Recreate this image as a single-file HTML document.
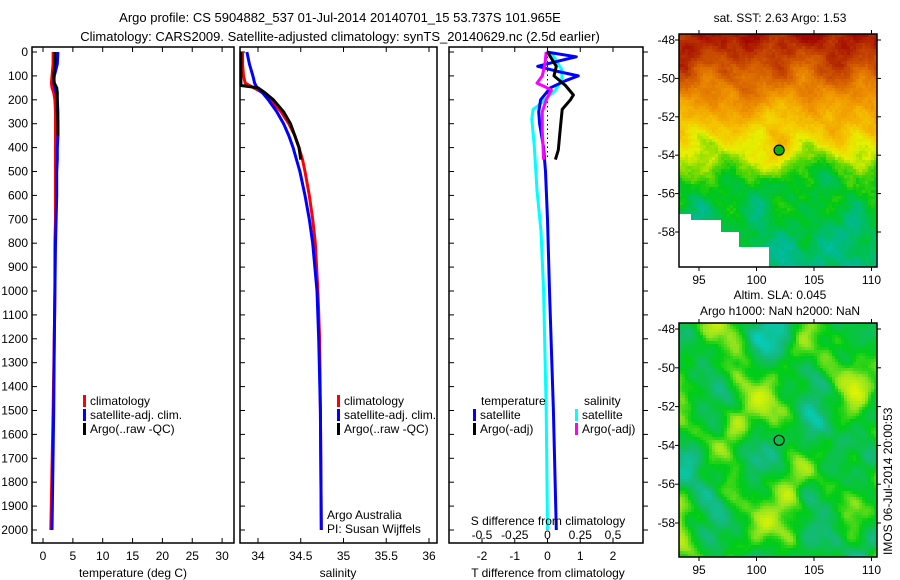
<!DOCTYPE html>
<html><head><meta charset="utf-8">
<style>
html,body{margin:0;padding:0;background:#fff;}
svg{display:block;font-family:"Liberation Sans",sans-serif;}
text{font-size:12px;fill:#000;}
</style></head>
<body>
<svg id="fig" width="900" height="580" viewBox="0 0 900 580">
<rect width="900" height="580" fill="#fff"/>
<text x="340" y="22" text-anchor="middle" style="font-size:13px">Argo profile: CS 5904882_537 01-Jul-2014 20140701_15 53.737S 101.965E</text>
<text x="340" y="41" text-anchor="middle" style="font-size:13px">Climatology: CARS2009. Satellite-adjusted climatology: synTS_20140629.nc (2.5d earlier)</text>
<g id="p1"></g>
<g id="p2"></g>
<g id="p3"></g>
<g id="m1"></g>
<g id="m2"></g>
</svg>
<script>
// ---- data ----
const depthTicks = [0,100,200,300,400,500,600,700,800,900,1000,1100,1200,1300,1400,1500,1600,1700,1800,1900,2000];
const depths = [0,50,100,130,150,170,200,250,300,350,400,450,500,600,700,800,1000,1200,1500,2000];
const tempClim = [1.7,1.7,1.5,1.4,1.5,1.8,2.0,2.1,2.1,2.1,2.1,2.1,2.1,2.1,2.1,2.0,2.0,1.9,1.7,1.3];
const tempSat  = [2.5,2.4,1.9,1.8,2.0,2.2,2.4,2.5,2.5,2.5,2.4,2.4,2.3,2.3,2.2,2.1,2.0,1.9,1.8,1.5];
const argoDepths = [0,50,100,130,150,170,200,250,300,350];
const tempArgo = [2.0,2.0,1.8,1.9,2.3,2.4,2.4,2.4,2.5,2.5];
const salClim = [33.82,33.82,33.83,33.85,33.95,34.05,34.15,34.27,34.36,34.43,34.48,34.52,34.55,34.60,34.64,34.67,34.70,34.72,34.73,34.74];
const salSat  = [33.87,33.90,33.94,33.96,33.99,34.05,34.12,34.22,34.30,34.36,34.41,34.45,34.49,34.55,34.60,34.64,34.69,34.71,34.73,34.74];
const salArgoDepths = [0,50,100,140,150,170,200,250,300,350,400,450];
const salArgo = [33.80,33.80,33.80,33.80,34.00,34.08,34.18,34.30,34.38,34.43,34.48,34.50];
const dTsatDepths = [0,20,40,60,80,100,120,150,200,250,300,400,500,700,1000,1500,2000];
const dTsat = [-0.03,0.88,0.27,-0.30,0.27,0.94,0.55,0.09,-0.21,-0.27,-0.24,-0.12,-0.06,0,0.06,0.18,0.27];
const dTargoDepths = [0,60,100,140,180,200,240,320,410,450];
const dTargo = [0.0,0.27,0.2,0.55,0.79,0.70,0.45,0.39,0.33,0.24];
const dSsatDepths = [0,30,75,115,160,220,240,280,400,580,750,1000,1500,2000];
const dSsat = [0.03,0.06,0.11,0.11,0.06,-0.06,-0.11,-0.12,-0.10,-0.08,-0.05,-0.03,-0.01,0.0];
const dSargoDepths = [0,50,100,130,145,160,200,250,330,450];
const dSargo = [-0.01,-0.02,-0.04,-0.08,-0.02,0.03,-0.01,-0.04,-0.04,-0.03];
const tTicks = [0,5,10,15,20,25,30];
const sTicks = [34,34.5,35,35.5,36];
const sTickLabels = ['34','34.5','35','35.5','36'];
const dTTicks = [-2,-1,0,1,2];
const dSTicks = [-0.5,-0.25,0,0.25,0.5];
const dSTickLabels = ['-0.5','-0.25','0','0.25','0.5'];

const NS='http://www.w3.org/2000/svg';
function el(parent,tag,attrs,txt){const e=document.createElementNS(NS,tag);for(const k in attrs)e.setAttribute(k,attrs[k]);if(txt!==undefined)e.textContent=txt;parent.appendChild(e);return e;}
const Y=d=>52+d*0.239;
const TOP=47,BOT=543;
function frame(g,x0,x1){
  const r=el(g,'rect',{x:x0,y:TOP,width:x1-x0,height:BOT-TOP,fill:'none',stroke:'#000','stroke-width':1.5});
  
  
  depthTicks.forEach(d=>{el(g,'line',{x1:x0,x2:x0+5,y1:Y(d),y2:Y(d),stroke:'#000'});});
}
function xticks(g,xs,labels,f,yl){
  xs.forEach((v,i)=>{const x=f(v);
    el(g,'line',{x1:x,x2:x,y1:BOT,y2:BOT-5,stroke:'#000'});
    el(g,'line',{x1:x,x2:x,y1:TOP,y2:TOP+5,stroke:'#000'});
    const t=el(g,'text',{x:x,y:yl,'text-anchor':'middle'},labels[i]);
    
    
  });
}
function line(g,xs,ds,f,color,w,name){
  const pts=xs.map((v,i)=>f(v).toFixed(1)+','+Y(ds[i]).toFixed(1)).join(' ');
  const p=el(g,'polyline',{points:pts,fill:'none',stroke:color,'stroke-width':w,'stroke-linejoin':'round'});
  
  
}
function legend(g,x,y,color,label){
  el(g,'rect',{x:x,y:y-10,width:3,height:12,fill:color});
  const t=el(g,'text',{x:x+7,y:y},label);
  
  
}
// Panel 1
const g1=document.getElementById('p1');
const fT=v=>43+v*5.97;
frame(g1,32,234);
depthTicks.forEach(d=>{const t=el(g1,'text',{x:28,y:Y(d)+4,'text-anchor':'end'},String(d));
  
  });
xticks(g1,tTicks,tTicks.map(String),fT,560);
line(g1,tempClim,depths,fT,'#f00',3,'temp-climatology-line');
line(g1,tempSat,depths,fT,'#00f',3,'temp-satellite-line');
line(g1,tempArgo,argoDepths,fT,'#000',3,'temp-argo-line');
legend(g1,83,405,'#f00','climatology');
legend(g1,83,419,'#00f','satellite-adj. clim.');
legend(g1,83,433,'#000','Argo(..raw -QC)');
el(g1,'text',{x:133,y:577,'text-anchor':'middle'},'temperature (deg C)');
// Panel 2
const g2=document.getElementById('p2');
const fS=v=>258+(v-34)*85.5;
frame(g2,240,437);
xticks(g2,sTicks,sTickLabels,fS,560);
line(g2,salClim,depths,fS,'#f00',3,'sal-climatology-line');
line(g2,salSat,depths,fS,'#00f',3,'sal-satellite-line');
line(g2,salArgo,salArgoDepths,fS,'#000',3,'sal-argo-line');
legend(g2,337,405,'#f00','climatology');
legend(g2,337,419,'#00f','satellite-adj. clim.');
legend(g2,337,433,'#000','Argo(..raw -QC)');
el(g2,'text',{x:327,y:519},'Argo Australia');
el(g2,'text',{x:327,y:533},'PI: Susan Wijffels');
el(g2,'text',{x:338,y:577,'text-anchor':'middle'},'salinity');
// Panel 3
const g3=document.getElementById('p3');
const fDT=v=>547.5+v*32.75;
const fDS=v=>547.5+v*131;
frame(g3,449,643);
depthTicks.forEach(d=>{el(g3,'line',{x1:643,x2:648,y1:Y(d),y2:Y(d),stroke:'#000'});});
dTTicks.forEach(v=>{const x=fDT(v);el(g3,'line',{x1:x,x2:x,y1:BOT,y2:BOT-5,stroke:'#000'});el(g3,'line',{x1:x,x2:x,y1:TOP,y2:TOP+5,stroke:'#000'});
  const t=el(g3,'text',{x:x,y:560,'text-anchor':'middle'},String(v));
  
  });
dSTicks.forEach((v,i)=>{const t=el(g3,'text',{x:fDS(v),y:539,'text-anchor':'middle'},dSTickLabels[i]);
  
  });
el(g3,'line',{x1:547.5,x2:547.5,y1:Y(0),y2:Y(450),stroke:'#000','stroke-dasharray':'1.5,3'});
line(g3,dSsat,dSsatDepths,fDS,'#0ff',3,'s-diff-satellite-line');
line(g3,dTsat,dTsatDepths,fDT,'#00f',3,'t-diff-satellite-line');
line(g3,dSargo,dSargoDepths,fDS,'#f0f',3,'s-diff-argo-line');
line(g3,dTargo,dTargoDepths,fDT,'#000',3,'t-diff-argo-line');
el(g3,'text',{x:481,y:405},'temperature');
el(g3,'text',{x:584,y:405},'salinity');
legend(g3,473,419,'#00f','satellite');
legend(g3,473,433,'#000','Argo(-adj)');
legend(g3,575,419,'#0ff','satellite');
legend(g3,575,433,'#f0f','Argo(-adj)');
el(g3,'text',{x:548,y:525,'text-anchor':'middle'},'S difference from climatology');
el(g3,'text',{x:548,y:577,'text-anchor':'middle'},'T difference from climatology');

// ---- maps (background imagery texture) ----
function smooth(x,y,s){return Math.sin(x*0.23+s)*Math.cos(y*0.19+s*1.3)
  +0.7*Math.sin(x*0.113+y*0.071+s*2.1)*Math.cos(x*0.05-y*0.137+s)
  +0.5*Math.cos(x*0.37-y*0.29+s*0.7)*Math.sin(y*0.31+s*3.1)
  +0.3*Math.sin(x*0.61+s*1.9)*Math.cos(y*0.53-s);}
function hash(i,j,s){const v=Math.sin(i*12.9898+j*78.233+s*37.7)*43758.5453;return v-Math.floor(v)-0.5;}
function hex(r,g,b){return 'rgb('+Math.round(r)+','+Math.round(g)+','+Math.round(b)+')';}
function lerpStops(stops,v){v=Math.max(0,Math.min(1,v));for(let i=0;i<stops.length-1;i++){const a=stops[i],b=stops[i+1];if(v<=b[0]){const t=(v-a[0])/(b[0]-a[0]);return hex(a[1]+(b[1]-a[1])*t,a[2]+(b[2]-a[2])*t,a[3]+(b[3]-a[3])*t);}}const l=stops[stops.length-1];return hex(l[1],l[2],l[3]);}
const sstStops=[[0,30,140,240],[0.2,0,200,210],[0.32,0,185,140],[0.42,0,200,20],[0.5,130,220,0],[0.56,230,240,0],[0.64,245,200,0],[0.74,240,150,0],[0.84,215,100,0],[0.93,185,50,0],[1,160,5,0]];
const slaStops=[[0,0,210,210],[0.3,20,185,120],[0.55,0,205,20],[0.75,150,228,30],[1,230,245,0]];
function sstProfile(fy){
  if(fy<0.3) return 0.97-fy*0.8;
  if(fy<0.5) return 0.73-(fy-0.3)*0.9;
  if(fy<0.62) return 0.55-(fy-0.5)*1.1;
  return 0.42-(fy-0.62)*0.25;
}
function drawMap(gid,x0,y0,w,h,isSST){
  const g=document.getElementById(gid);
  const cs=3;
  for(let j=0;j<Math.ceil(h/cs);j++){for(let i=0;i<Math.ceil(w/cs);i++){
    let v,col;
    const lx=i*cs, ly=j*cs;
    if(isSST){
      const fy=ly/h;
      v=sstProfile(fy+0.04*smooth(i,j,1))+0.035*smooth(i*1.6,j*1.4,5)+0.03*hash(i,j,1);
      if((lx<40&&ly>h-48)||(lx<60&&ly>h-36)||(lx<88&&ly>h-22)||(lx<10&&ly>h-55)) col='#fff';
      else col=lerpStops(sstStops,v);
    } else {
      v=0.52+0.22*smooth(i*0.9,j*0.8,2)+0.08*smooth(i*1.7,j*1.5,7)+0.02*hash(i,j,3);
      col=lerpStops(slaStops,v);
    }
    el(g,'rect',{x:x0+lx,y:y0+ly,width:Math.min(cs+0.3,w-lx),height:Math.min(cs+0.3,h-ly),fill:col});
  }}
  const fr=el(g,'rect',{x:x0,y:y0,width:w,height:h,fill:'none',stroke:'#000','stroke-width':1.5});
  
  
}
const lonTicks=[95,100,105,110];
const latTicks=[-48,-50,-52,-54,-56,-58];
function mapAxes(gid,x0,y0,w,h,lat48y,latScale,fill){
  const g=document.getElementById(gid);
  const fx=lon=>699+(lon-95)*11.5;
  const fy=lat=>lat48y+(-48-lat)*latScale;
  lonTicks.forEach(l=>{el(g,'line',{x1:fx(l),x2:fx(l),y1:y0+h,y2:y0+h+4,stroke:'#000'});el(g,'line',{x1:fx(l),x2:fx(l),y1:y0,y2:y0-4,stroke:'#000'});
    const t=el(g,'text',{x:fx(l),y:y0+h+17,'text-anchor':'middle'},String(l));
    
    });
  latTicks.forEach(l=>{el(g,'line',{x1:x0-4,x2:x0,y1:fy(l),y2:fy(l),stroke:'#000'});el(g,'line',{x1:x0+w,x2:x0+w+4,y1:fy(l),y2:fy(l),stroke:'#000'});
    const t=el(g,'text',{x:x0-4,y:fy(l)+4,'text-anchor':'end'},String(l));
    
    });
  const c=el(g,'circle',{cx:fx(101.965),cy:fy(-53.737),r:5,fill:fill,stroke:'#000','stroke-width':1.2});
  
  
}
drawMap('m1',679,34,198,233,true);
mapAxes('m1',679,34,198,233,40,19.2,'#10b010');
drawMap('m2',679,323,198,234,false);
mapAxes('m2',679,323,198,234,329,19.4,'none');
const m1=document.getElementById('m1'),m2=document.getElementById('m2');
el(m1,'text',{x:780,y:22,'text-anchor':'middle'},'sat. SST: 2.63 Argo: 1.53');
el(m2,'text',{x:780,y:299,'text-anchor':'middle'},'Altim. SLA: 0.045');
el(m2,'text',{x:780,y:315,'text-anchor':'middle'},'Argo h1000: NaN h2000: NaN');
const ts=el(m2,'text',{x:0,y:0,transform:'translate(892,555) rotate(-90)'},'IMOS 06-Jul-2014 20:00:53');


</script>
</body></html>
